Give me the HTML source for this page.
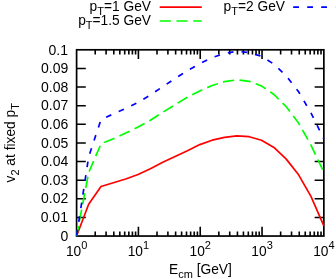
<!DOCTYPE html><html><head><meta charset="utf-8"><style>html,body{margin:0;padding:0;background:#fff;}svg{display:block;will-change:transform;}text{font-family:"Liberation Sans",sans-serif;fill:#000;}</style></head><body>
<svg width="336" height="279" viewBox="0 0 336 279">
<rect width="336" height="279" fill="#fff"/>
<path d="M76.60,217.43 h9.20 M323.85,217.43 h-9.20 M76.60,198.80 h9.20 M323.85,198.80 h-9.20 M76.60,180.18 h9.20 M323.85,180.18 h-9.20 M76.60,161.55 h9.20 M323.85,161.55 h-9.20 M76.60,142.93 h9.20 M323.85,142.93 h-9.20 M76.60,124.30 h9.20 M323.85,124.30 h-9.20 M76.60,105.68 h9.20 M323.85,105.68 h-9.20 M76.60,87.05 h9.20 M323.85,87.05 h-9.20 M76.60,68.43 h9.20 M323.85,68.43 h-9.20 M95.21,236.05 v-4.60 M95.21,49.80 v4.60 M106.09,236.05 v-4.60 M106.09,49.80 v4.60 M113.81,236.05 v-4.60 M113.81,49.80 v4.60 M119.81,236.05 v-4.60 M119.81,49.80 v4.60 M124.70,236.05 v-4.60 M124.70,49.80 v4.60 M128.84,236.05 v-4.60 M128.84,49.80 v4.60 M132.42,236.05 v-4.60 M132.42,49.80 v4.60 M135.58,236.05 v-4.60 M135.58,49.80 v4.60 M138.41,236.05 v-9.20 M138.41,49.80 v9.20 M157.02,236.05 v-4.60 M157.02,49.80 v4.60 M167.90,236.05 v-4.60 M167.90,49.80 v4.60 M175.63,236.05 v-4.60 M175.63,49.80 v4.60 M181.62,236.05 v-4.60 M181.62,49.80 v4.60 M186.51,236.05 v-4.60 M186.51,49.80 v4.60 M190.65,236.05 v-4.60 M190.65,49.80 v4.60 M194.23,236.05 v-4.60 M194.23,49.80 v4.60 M197.40,236.05 v-4.60 M197.40,49.80 v4.60 M200.23,236.05 v-9.20 M200.23,49.80 v9.20 M218.83,236.05 v-4.60 M218.83,49.80 v4.60 M229.72,236.05 v-4.60 M229.72,49.80 v4.60 M237.44,236.05 v-4.60 M237.44,49.80 v4.60 M243.43,236.05 v-4.60 M243.43,49.80 v4.60 M248.32,236.05 v-4.60 M248.32,49.80 v4.60 M252.46,236.05 v-4.60 M252.46,49.80 v4.60 M256.05,236.05 v-4.60 M256.05,49.80 v4.60 M259.21,236.05 v-4.60 M259.21,49.80 v4.60 M262.04,236.05 v-9.20 M262.04,49.80 v9.20 M280.64,236.05 v-4.60 M280.64,49.80 v4.60 M291.53,236.05 v-4.60 M291.53,49.80 v4.60 M299.25,236.05 v-4.60 M299.25,49.80 v4.60 M305.24,236.05 v-4.60 M305.24,49.80 v4.60 M310.14,236.05 v-4.60 M310.14,49.80 v4.60 M314.28,236.05 v-4.60 M314.28,49.80 v4.60 M317.86,236.05 v-4.60 M317.86,49.80 v4.60 M321.02,236.05 v-4.60 M321.02,49.80 v4.60" stroke="#000" stroke-width="1.60" fill="none"/>
<rect x="76.60" y="49.80" width="247.25" height="186.25" stroke="#000" stroke-width="1.70" fill="none"/>
<path d="M76.60,236.05 L88.65,204.30 L101.00,186.50 L113.35,182.70 L125.70,179.00 L138.05,174.50 L150.40,168.80 L162.75,162.30 L175.10,156.60 L187.45,150.70 L199.80,144.60 L212.15,140.20 L224.50,137.40 L236.85,135.80 L249.20,136.70 L261.55,140.30 L273.90,147.40 L286.25,159.10 L298.60,174.80 L310.95,196.30 L323.85,225.96" stroke="#f00" stroke-width="1.70" fill="none" stroke-linejoin="round"/>
<path d="M76.60,236.05 L88.65,172.60 L101.00,143.90 L113.35,138.70 L125.70,133.10 L138.05,127.10 L150.40,120.20 L162.75,112.30 L175.10,104.70 L187.45,97.20 L199.80,90.90 L212.15,85.50 L224.50,81.70 L236.85,79.80 L249.20,81.30 L261.55,86.00 L273.90,94.50 L286.25,106.70 L298.60,123.10 L310.95,145.10 L323.85,172.26" stroke="#0f0" stroke-width="1.70" fill="none" stroke-dasharray="11.3 5.42" stroke-dashoffset="1.1"/>
<path d="M76.60,236.05 L88.65,156.80 L101.00,119.60 L113.35,113.90 L125.70,108.50 L138.05,102.30 L150.40,95.00 L162.75,86.70 L175.10,78.50 L187.45,70.60 L199.80,63.70 L212.15,57.60 L224.50,53.60 L236.85,51.20 L249.20,52.60 L261.55,56.40 L273.90,64.10 L286.25,76.00 L298.60,91.70 L310.95,112.90 L323.85,138.91" stroke="#00f" stroke-width="1.70" fill="none" stroke-dasharray="5.7 8.13" stroke-dashoffset="-0.5"/>
<text x="68.30" y="240.60" font-size="14.00" text-anchor="end">0</text>
<text x="67.95" y="222.01" font-size="14.00" text-anchor="end">0.01</text>
<text x="68.30" y="203.42" font-size="14.00" text-anchor="end">0.02</text>
<text x="68.30" y="184.83" font-size="14.00" text-anchor="end">0.03</text>
<text x="68.30" y="166.24" font-size="14.00" text-anchor="end">0.04</text>
<text x="68.30" y="147.65" font-size="14.00" text-anchor="end">0.05</text>
<text x="68.30" y="129.06" font-size="14.00" text-anchor="end">0.06</text>
<text x="68.30" y="110.47" font-size="14.00" text-anchor="end">0.07</text>
<text x="68.30" y="91.88" font-size="14.00" text-anchor="end">0.08</text>
<text x="68.30" y="73.29" font-size="14.00" text-anchor="end">0.09</text>
<text x="67.95" y="54.70" font-size="14.00" text-anchor="end">0.1</text>
<text x="76.60" y="255.7" font-size="13.75" text-anchor="middle">10<tspan font-size="11.00" dy="-6.88">0</tspan></text>
<text x="138.41" y="255.7" font-size="13.75" text-anchor="middle">10<tspan font-size="11.00" dy="-6.88">1</tspan></text>
<text x="200.23" y="255.7" font-size="13.75" text-anchor="middle">10<tspan font-size="11.00" dy="-6.88">2</tspan></text>
<text x="262.04" y="255.7" font-size="13.75" text-anchor="middle">10<tspan font-size="11.00" dy="-6.88">3</tspan></text>
<text x="323.85" y="255.7" font-size="13.75" text-anchor="middle">10<tspan font-size="11.00" dy="-6.88">4</tspan></text>
<text x="200.4" y="274" font-size="13.75" text-anchor="middle">E<tspan font-size="11.00" dy="4.12">cm</tspan><tspan dy="-4.12"> [GeV]</tspan></text>
<text transform="translate(14.5,142.8) rotate(-90)" font-size="13.75" text-anchor="middle">v<tspan font-size="11.00" dy="4.12">2</tspan><tspan dy="-4.12"> at fixed p</tspan><tspan font-size="11.00" dy="4.12">T</tspan></text>
<text x="151.00" y="10.80" font-size="13.75" text-anchor="end">p<tspan font-size="11.00" dy="4.12">T</tspan><tspan dy="-4.12">=1 GeV</tspan></text>
<text x="151.00" y="24.50" font-size="13.75" text-anchor="end">p<tspan font-size="11.00" dy="4.12">T</tspan><tspan dy="-4.12">=1.5 GeV</tspan></text>
<text x="285.00" y="10.80" font-size="13.75" text-anchor="end">p<tspan font-size="11.00" dy="4.12">T</tspan><tspan dy="-4.12">=2 GeV</tspan></text>
<path d="M159.7,7.1 H201.8" stroke="#f00" stroke-width="1.70"/>
<path d="M159.7,21 H201.8" stroke="#0f0" stroke-width="1.70" stroke-dasharray="11.2 5.55"/>
<path d="M293.2,7.1 H335.3" stroke="#00f" stroke-width="1.70" stroke-dasharray="5.8 8.2"/>
</svg></body></html>
